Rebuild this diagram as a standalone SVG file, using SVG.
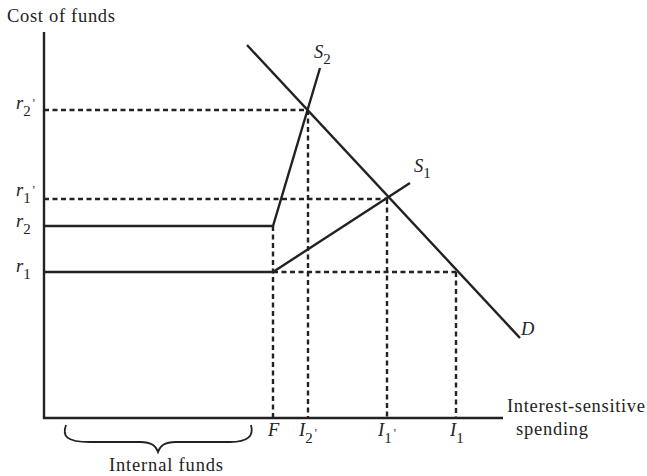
<svg xmlns="http://www.w3.org/2000/svg" width="647" height="476" viewBox="0 0 647 476">
<style>
text{font-family:"Liberation Serif","DejaVu Serif",serif;fill:#222;font-size:18.5px}
.i{font-style:italic}
.sub{font-size:15px;font-style:normal}
.pr{font-size:12px;font-style:normal}
.solid{stroke:#222;stroke-width:2.4;fill:none}
.dash{stroke:#222;stroke-width:2.4;stroke-dasharray:5,3.5;fill:none}
</style>
<rect width="647" height="476" fill="#fff"/>
<g id="axes">
<polyline class="solid" points="44,32 44,418 503,418"/>
<text x="7" y="22" textLength="108">Cost of funds</text>
<text x="507" y="412" textLength="138">Interest-sensitive</text>
<text x="516" y="435" textLength="72">spending</text>
</g>
<g id="connectors">
<line class="dash" x1="44" y1="110" x2="307" y2="110"/>
<line class="dash" x1="44" y1="199" x2="387" y2="199"/>
<line class="dash" x1="273" y1="272" x2="456" y2="272"/>
<line class="dash" x1="273" y1="226" x2="273" y2="418"/>
<line class="dash" x1="308" y1="110" x2="308" y2="418"/>
<line class="dash" x1="387" y1="199" x2="387" y2="418"/>
<line class="dash" x1="456" y1="272" x2="456" y2="418"/>
</g>
<g id="D">
<line class="solid" x1="247" y1="45" x2="520" y2="338"/>
<text class="i" x="521" y="335">D</text>
</g>
<g id="S2">
<polyline class="solid" points="44,226 273,226 320,68"/>
<text class="i" x="314" y="58">S<tspan class="sub" dy="6">2</tspan></text>
</g>
<g id="S1">
<polyline class="solid" points="44,272 273,272 410,183"/>
<text class="i" x="414" y="172">S<tspan class="sub" dy="6">1</tspan></text>
</g>
<g id="ylabels">
<text class="i" x="16" y="109">r<tspan class="sub" dy="7">2</tspan><tspan class="pr" dx="2" dy="-9">'</tspan></text>
<text class="i" x="16" y="196">r<tspan class="sub" dy="7">1</tspan><tspan class="pr" dx="2" dy="-9">'</tspan></text>
<text class="i" x="16" y="227">r<tspan class="sub" dy="7">2</tspan></text>
<text class="i" x="16" y="272">r<tspan class="sub" dy="7">1</tspan></text>
</g>
<g id="xlabels">
<text class="i" x="268" y="436">F</text>
<text class="i" x="299" y="436">I<tspan class="sub" dy="7">2</tspan><tspan class="pr" dx="2" dy="-6">'</tspan></text>
<text class="i" x="378" y="436">I<tspan class="sub" dy="7">1</tspan><tspan class="pr" dx="2" dy="-6">'</tspan></text>
<text class="i" x="450" y="436">I<tspan class="sub" dy="7">1</tspan></text>
</g>
<g id="brace">
<path d="M66,425 C62,436 66,442 90,442 L140,442 C152,442 156,446 158,452 C160,446 164,442 176,442 L230,442 C248,442 254,436 251,425" fill="none" stroke="#222" stroke-width="1.8"/>
<text x="166" y="471" text-anchor="middle" textLength="114">Internal funds</text>
</g>
</svg>
